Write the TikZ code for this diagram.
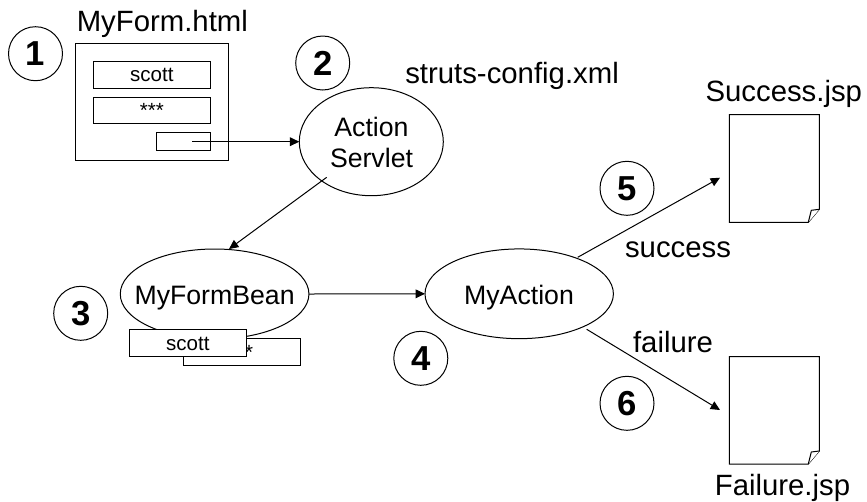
\documentclass[tikz,border=0pt]{standalone}
\usepackage{fontspec}
\setmainfont{Liberation Sans}
\usetikzlibrary{shapes.geometric,arrows.meta}
\tikzset{
  x=0.75pt,y=-0.75pt,
  ln/.style={draw=black,line width=0.75pt},
  num/.style={circle,ln,minimum size=40.5pt,inner sep=0pt,font=\fontsize{26}{26}\selectfont\bfseries},
  ell/.style={ellipse,ln,inner sep=0pt,outer sep=0pt,fill=white},
  lab/.style={anchor=base,inner sep=0pt,font=\fontsize{22}{26}\selectfont},
  mid/.style={anchor=base,inner sep=0pt,font=\fontsize{20}{24}\selectfont},
  small/.style={anchor=base,inner sep=0pt,font=\fontsize{15.4}{18}\selectfont},
  arr/.style={line width=0.75pt,-{Triangle[length=7pt,width=6.5pt]}},
}
\newcommand{\pagedoc}[3]{%
  \draw[ln,fill=white] (729.3,#1) -- (819.3,#1) -- (819.3,#3) -- (808.3,#2) -- (729.3,#2) -- cycle;
  \draw[ln,fill=white] (808.3,#2) -- (811.3,#3+1) -- (819.3,#3);
}
\begin{document}
\begin{tikzpicture}
\useasboundingbox (0,0) rectangle (867,501);
% step circles
\node[num] (n1) at (35.5,53.7) {1};
\node[num] (n2) at (322.7,63) {2};
\node[num] (n3) at (80.7,313.3) {3};
\node[num] (n4) at (420.8,358.3) {4};
\node[num] (n5) at (627,188.3) {5};
\node[num] (n6) at (627,403.3) {6};
% form
\node[lab] (formlab) at (162.3,31.7) {MyForm.html};
\draw[ln] (75.7,43.3) rectangle (228.3,160);
\draw[ln] (93.3,61) rectangle (210.3,88.3);
\draw[ln] (93.3,97) rectangle (210.3,123.7);
\draw[ln] (156.3,132.7) rectangle (210.3,150.7);
\node[small] (f1) at (151.8,81.7) {scott};
\node[small] (f2) at (151.8,117.5) {***};
% config
\node[lab,anchor=base west] (cfg) at (405,83.3) {struts-config.xml};
% ellipses
\node[ell,minimum width=108pt,minimum height=81pt] (servlet) at (371.3,141.7) {};
\node[mid] (servleta) at (371.5,136) {Action};
\node[mid] (servletb) at (371.5,167.3) {Servlet};
\node[ell,minimum width=141.5pt,minimum height=67.5pt] (bean) at (214.6,294) {};
\node[mid] (beant) at (214.6,304) {MyFormBean};
\node[ell,minimum width=141.3pt,minimum height=67.3pt] (action) at (519.2,293.8) {};
\node[mid] (actiont) at (519,304) {MyAction};
% bean boxes
\draw[ln] (183.3,338.3) rectangle (300,365.7);
\node[small] (star) at (249,359.7) {*};
\node[draw=black,line width=0.75pt,fill=white,minimum width=87.75pt,minimum height=20.5pt,inner sep=0pt] (beanbox) at (187.8,343.2) {};
\node[small] (beanval) at (187.8,350.5) {scott};
% documents
\pagedoc{114.7}{222.3}{209.3}
\pagedoc{356.7}{464}{451}
\node[lab] (succ) at (783.8,101) {Success.jsp};
\node[lab] (fail) at (782.5,495) {Failure.jsp};
\node[lab] (succl) at (678,257) {success};
\node[lab] (faill) at (673,352.7) {failure};
% connector ends
\coordinate (btn) at (192,141.7);
\coordinate (svs) at (326.7,177.3);
\coordinate (bnn) at (229,249);
\coordinate (acs) at (577.7,257.3);
\coordinate (sdoc) at (720,177.7);
\coordinate (acf) at (586.7,329.3);
\coordinate (fdoc) at (720,410);
\draw[arr] (btn) -- (servlet.west);
\draw[arr] (svs) -- (bnn);
\draw[arr] (bean.east) -- (action.west);
\draw[arr] (acs) -- (sdoc);
\draw[arr] (acf) -- (fdoc);
\end{tikzpicture}
\end{document}
